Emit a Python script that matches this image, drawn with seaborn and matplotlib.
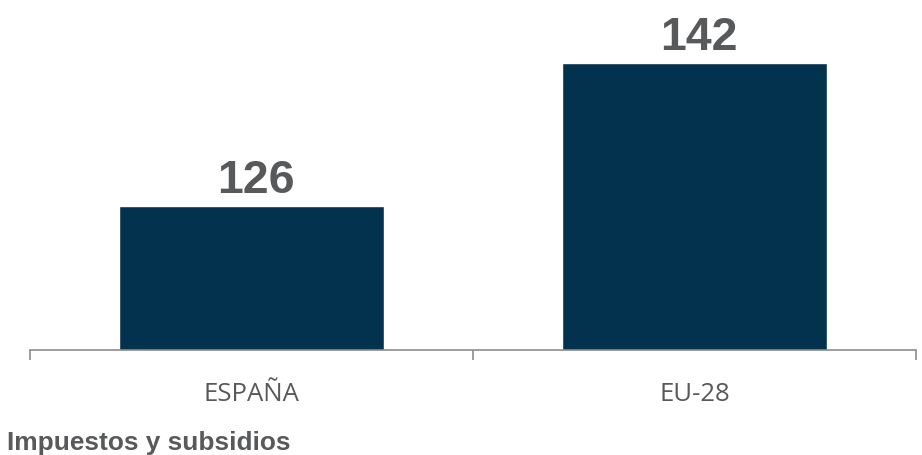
import matplotlib
matplotlib.use("Agg")
import matplotlib.pyplot as plt
import seaborn as sns
import pandas as pd

categories = ["ESPAÑA", "EU-28"]
values = [126, 142]
value_labels = ["126", "142"]
footer = "Impuestos y subsidios"

sns.set_theme(style="white")
plt.rcParams['font.family'] = ['Liberation Sans', 'DejaVu Sans']

df = pd.DataFrame({"cat": categories, "val": values})

fig = plt.figure(figsize=(9.22, 4.56), dpi=100)
ax = fig.add_axes([30/922, (456-350.5)/456, 886/922, 350.5/456])
sns.barplot(data=df, x="cat", y="val", color="#03324f", width=0.6, ax=ax,
            saturation=1, errorbar=None)
ax.set_ylim(110, 149.1)
ax.set_xlim(-0.5, 1.5)
ax.set_xlabel("")
ax.set_ylabel("")
ax.set_yticks([])
for s in ["top", "right", "left"]:
    ax.spines[s].set_visible(False)
ax.spines["bottom"].set_color("#8c8c8c")
ax.spines["bottom"].set_linewidth(1.2)

ax.set_xticks([-0.5, 0.5, 1.5], minor=False)
ax.set_xticklabels(["", "", ""])
ax.tick_params(axis="x", which="major", direction="out", length=7.2, width=1.2,
               color="#8c8c8c", bottom=True)
ax.set_xticks([0, 1], minor=True)
ax.set_xticklabels(categories, minor=True, fontsize=18.5, color="#595959",
                   fontfamily=["Open Sans", "DejaVu Sans"])
ax.tick_params(axis="x", which="minor", length=0, pad=23)

for i, (v, lab) in enumerate(zip(values, value_labels)):
    ax.annotate(lab, xy=(i, v), xytext=(3.5, 10), textcoords="offset points",
                ha="center", va="baseline", fontsize=33.5, fontweight="bold",
                color="#58595b")

fig.text(7/922, (456-450.5)/456, footer, ha="left", va="baseline",
         fontsize=18.9, fontweight="bold", color="#58595b")

fig.savefig("out.png", dpi=100)
